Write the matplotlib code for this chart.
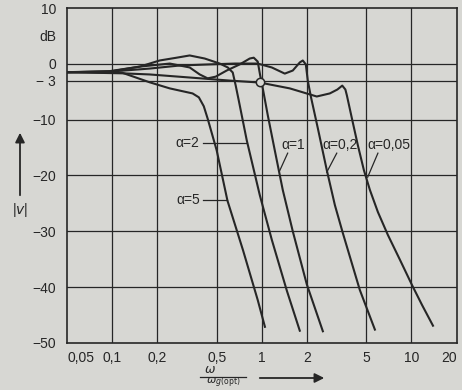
import matplotlib.pyplot as plt
from matplotlib.lines import Line2D

plt.rcParams['font.family'] = ['Liberation Sans Narrow', 'Liberation Sans', 'DejaVu Sans']

# omega / omega_g(opt) and |v| in dB
w_a5 = [0.05, 0.117, 0.178, 0.243, 0.345, 0.38, 0.41, 0.435, 0.5, 0.59, 0.75, 0.94, 1.05]
db_a5 = [-1.5, -1.6, -3.3, -4.4, -5.3, -6.0, -7.6, -9.8, -15.5, -24.5, -33.4, -42.3, -47.1]

w_a2 = [0.05, 0.096, 0.153, 0.208, 0.27, 0.33, 0.416, 0.524, 0.593, 0.64, 0.67, 0.702,
        0.794, 0.97, 1.167, 1.47, 1.795]
db_a2 = [-1.5, -1.4, -0.5, 0.6, 1.1, 1.5, 0.95, 0.05, -0.65, -1.55, -3.9, -6.55,
         -13.7, -23.5, -31.5, -40.6, -47.8]

w_a1 = [0.05, 0.097, 0.153, 0.243, 0.33, 0.385, 0.435, 0.492, 0.583, 0.713, 0.831, 0.884,
        0.94, 0.975, 1.0, 1.097, 1.222, 1.382, 1.612, 2.0, 2.56]
db_a1 = [-1.5, -1.3, -0.5, 0.05, -0.65, -1.9, -2.6, -2.3, -1.2, -0.1, 0.95, 1.1,
         0.4, -2.0, -3.4, -9.2, -15.5, -22.6, -30.0, -39.5, -47.9]

w_a02 = [0.05, 0.096, 0.178, 0.283, 0.449, 0.66, 0.94, 1.167, 1.425, 1.612, 1.795, 1.88,
         1.97, 2.03, 2.128, 2.37, 2.72, 3.08, 3.48, 4.52, 5.7]
db_a02 = [-1.5, -1.4, -0.85, -0.3, -0.1, 0.05, 0.05, -0.65, -1.75, -1.2, 0.25, 0.6,
          -0.1, -3.0, -5.85, -11.55, -19.05, -25.3, -30.3, -40.5, -47.6]

w_a005 = [0.05, 0.1175, 0.178, 0.33, 0.611, 0.97, 1.54, 2.33, 2.85, 3.2, 3.45, 3.62,
          3.704, 4.0, 4.387, 4.813, 5.28, 5.97, 6.96, 8.38, 10.08, 11.75, 13.93]
db_a005 = [-1.5, -1.7, -1.9, -2.45, -3.0, -3.35, -4.4, -5.85, -5.3, -4.6, -3.9, -4.6,
           -5.65, -9.75, -14.6, -19.05, -22.6, -26.55, -30.65, -35.1, -39.6, -43.15, -46.9]

x_ticks = [0.05, 0.1, 0.2, 0.5, 1, 2, 5, 10, 20]
x_labels = ['0,05', '0,1', '0,2', '0,5', '1', '2', '5', '10', '20']
y_ticks = [10, 5, 0, -3, -10, -20, -30, -40, -50]
y_labels = ['10', 'dB', '0', '\u2212 3', '\u221210', '\u221220', '\u221230', '\u221240', '\u221250']
y_grid = [0, -3, -10, -20, -30, -40]

paper = '#d7d7d3'
ink = '#262626'

fig = plt.figure(figsize=(4.62, 3.90), dpi=100, facecolor=paper)
ax = fig.add_axes([67 / 462, 1 - 343 / 390, 389.5 / 462, 335 / 390])
ax.set_facecolor(paper)
ax.set_xscale('log')
ax.set_xlim(0.05, 20)
ax.set_ylim(-50, 10)

for x in x_ticks[1:-1]:
    ax.axvline(x, color=ink, lw=0.9, zorder=1)
for y in y_grid:
    ax.axhline(y, color=ink, lw=0.9, zorder=1)

for w, db in [(w_a5, db_a5), (w_a2, db_a2), (w_a1, db_a1), (w_a02, db_a02), (w_a005, db_a005)]:
    ax.plot(w, db, color=ink, lw=1.5, solid_joinstyle='round', zorder=3)

# -3 dB point
ax.plot(0.98, -3.3, 'o', ms=6, mfc=paper, mec=ink, mew=1.1, zorder=5)

# curve labels with leader lines
ax.text(0.385, -14.2, '\u03b1=2', ha='right', va='center', fontsize=10, color=ink)
ax.plot([0.403, 0.79], [-14.2, -14.2], color=ink, lw=0.9)
ax.text(0.385, -24.3, '\u03b1=5', ha='right', va='center', fontsize=10, color=ink)
ax.plot([0.403, 0.585], [-24.3, -24.3], color=ink, lw=0.9)
ax.text(1.61, -14.6, '\u03b1=1', ha='center', va='center', fontsize=10, color=ink)
ax.plot([1.49, 1.32], [-16.0, -19.1], color=ink, lw=0.9)
ax.text(3.32, -14.6, '\u03b1=0,2', ha='center', va='center', fontsize=10, color=ink)
ax.plot([3.17, 2.72], [-16.0, -19.4], color=ink, lw=0.9)
ax.text(7.1, -14.6, '\u03b1=0,05', ha='center', va='center', fontsize=10, color=ink)
ax.plot([5.97, 5.1], [-16.0, -20.3], color=ink, lw=0.9)

ax.set_xticks(x_ticks)
ax.set_xticklabels(x_labels)
ax.minorticks_off()
ax.set_yticks(y_ticks)
ax.set_yticklabels(y_labels)
ax.tick_params(length=0, labelsize=10, colors=ink, pad=8)
ax.tick_params(axis='x', pad=6)
xt = ax.get_xticklabels()
xt[0].set_horizontalalignment('left')
xt[-1].set_horizontalalignment('right')
for s in ax.spines.values():
    s.set_color(ink)
    s.set_linewidth(1.2)

# axis captions
fig.text(20 / 462, 1 - 210 / 390, '|$v$|', ha='center', va='center', fontsize=10, color=ink)
ax.annotate('', xy=(20 / 462, 1 - 130 / 390), xytext=(20 / 462, 1 - 198 / 390),
            xycoords='figure fraction', textcoords='figure fraction',
            arrowprops=dict(arrowstyle='-|>', lw=1.3, color=ink, mutation_scale=14))
fig.text(210 / 462, 1 - 376 / 390, r'$\omega$', ha='center', va='bottom', fontsize=9, color=ink)
fig.add_artist(Line2D([200 / 462, 246 / 462], [1 - 377 / 390, 1 - 377 / 390],
                      color=ink, lw=0.9))
fig.text(223 / 462, 0.0, r'$\omega_{g(\mathrm{opt})}$', ha='center', va='bottom',
         fontsize=8, color=ink)
ax.annotate('', xy=(327 / 462, 1 - 378 / 390), xytext=(257 / 462, 1 - 378 / 390),
            xycoords='figure fraction', textcoords='figure fraction',
            arrowprops=dict(arrowstyle='-|>', lw=1.3, color=ink, mutation_scale=14))

fig.savefig('out.png', dpi=100, facecolor=paper)
